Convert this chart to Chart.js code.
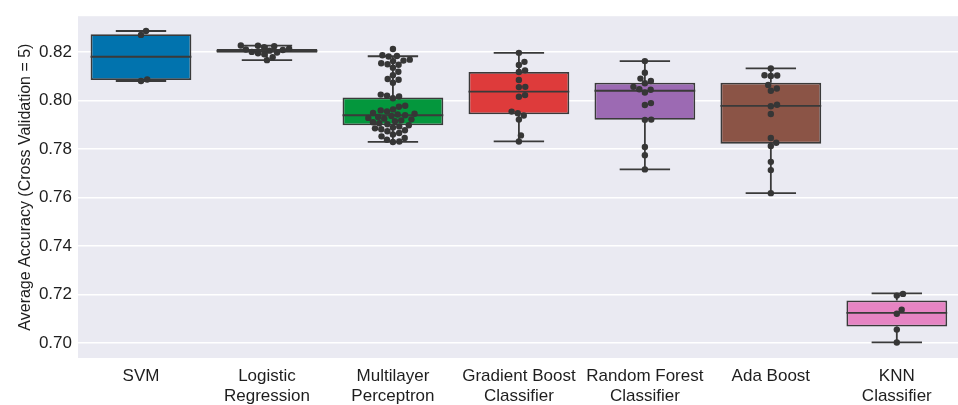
<!DOCTYPE html>
<html>
<head>
<meta charset="utf-8">
<script src="https://cdn.jsdelivr.net/npm/chart.js@4.4.1/dist/chart.umd.min.js"></script>
<style>
  html, body { margin: 0; padding: 0; background: #ffffff; overflow: hidden; }
  #wrap { width: 963px; height: 405px; position: relative; }
</style>
</head>
<body>
<div id="wrap"><canvas id="chart"></canvas></div>
<script>
// Model names (multi-line tick labels)
const categories = [
  ['SVM'],
  ['Logistic', 'Regression'],
  ['Multilayer', 'Perceptron'],
  ['Gradient Boost', 'Classifier'],
  ['Random Forest', 'Classifier'],
  ['Ada Boost'],
  ['KNN', 'Classifier']
];

// Box summary per model
const whiskerHigh = [0.8286, 0.8226, 0.8182, 0.8196, 0.8162, 0.8132, 0.7205];
const upperQuartile = [0.8273, 0.8212, 0.8012, 0.8117, 0.8073, 0.8073, 0.7176];
const medianScore = [0.8180, 0.8204, 0.7939, 0.8036, 0.8040, 0.7978, 0.7125];
const lowerQuartile = [0.8084, 0.8196, 0.7898, 0.7943, 0.7920, 0.7822, 0.7069];
const whiskerLow = [0.8080, 0.8166, 0.7829, 0.7831, 0.7716, 0.7618, 0.7003];

// Individual cross-validated accuracies per model
const svmScores = [0.8286, 0.8270, 0.8086, 0.8080];
const logRegScores = [0.8226, 0.8225, 0.8223, 0.8219, 0.8213, 0.8210, 0.8208, 0.8205, 0.8200, 0.8197,
  0.8194, 0.8190, 0.8178, 0.8166];
const mlpScores = [0.8212, 0.8186, 0.8183, 0.8181, 0.8168, 0.8164, 0.8162, 0.8153, 0.8149, 0.8147,
  0.8135, 0.8118, 0.8104, 0.8088, 0.8085, 0.8073, 0.8024, 0.8019, 0.8016, 0.8009,
  0.7978, 0.7974, 0.7963, 0.7959, 0.7955, 0.7948, 0.7945, 0.7942, 0.7939, 0.7936,
  0.7932, 0.7928, 0.7925, 0.7922, 0.7918, 0.7914, 0.7910, 0.7906, 0.7902, 0.7898,
  0.7893, 0.7889, 0.7885, 0.7881, 0.7877, 0.7873,
  0.7866, 0.7860, 0.7852, 0.7845, 0.7838, 0.7831, 0.7829];
const gbScores = [0.8196, 0.8159, 0.8146, 0.8124, 0.8117, 0.8084, 0.8056, 0.8055, 0.8022, 0.8015,
  0.7954, 0.7947, 0.7938, 0.7921, 0.7856, 0.7831];
const rfScores = [0.8162, 0.8114, 0.8090, 0.8080, 0.8071, 0.8056, 0.8044, 0.8033, 0.8046, 0.7989,
  0.7981, 0.7921, 0.7920, 0.7808, 0.7774, 0.7716];
const adaScores = [0.8132, 0.8101, 0.8103, 0.8104, 0.8064, 0.8049, 0.8040, 0.7982, 0.7976, 0.7944,
  0.7845, 0.7826, 0.7812, 0.7747, 0.7713, 0.7618];
const knnScores = [0.7203, 0.7196, 0.7138, 0.7121, 0.7056, 0.7003];
const scoresByModel = [svmScores, logRegScores, mlpScores, gbScores, rfScores, adaScores, knnScores];

// Axis ticks
const yTicks = [0.70, 0.72, 0.74, 0.76, 0.78, 0.80, 0.82];

// Styling
const boxColors = ['#0173AE', '#D9801C', '#04973D', '#DE3B3B', '#9C6AB3', '#8B5446', '#E684C3'];
const edgeColor = '#3A3A3A';
const dotColor = '#363636';
const textColor = '#1E1E1E';
const fontFamily = '"Liberation Sans", Arial, Helvetica, sans-serif';
const dotRadius = 3.2;

// Whisker, cap and median segments (null y breaks the line between segments)
const boxLines = [];
categories.forEach((_, i) => {
  const gap = { x: i, y: null };
  boxLines.push(
    { x: i, y: whiskerLow[i] }, { x: i, y: lowerQuartile[i] }, gap,
    { x: i, y: upperQuartile[i] }, { x: i, y: whiskerHigh[i] }, gap,
    { x: i - 0.2, y: whiskerLow[i] }, { x: i + 0.2, y: whiskerLow[i] }, gap,
    { x: i - 0.2, y: whiskerHigh[i] }, { x: i + 0.2, y: whiskerHigh[i] }, gap,
    { x: i - 0.4, y: medianScore[i] }, { x: i + 0.4, y: medianScore[i] }, gap
  );
});

// Plot background (seaborn darkgrid look)
const plotBackground = {
  id: 'plotBackground',
  beforeDraw(chart) {
    const { ctx, chartArea: a } = chart;
    ctx.save();
    ctx.fillStyle = '#EAEAF2';
    ctx.fillRect(a.left, a.top, a.right - a.left, a.bottom - a.top);
    ctx.restore();
  }
};

const chart = new Chart(document.getElementById('chart'), {
  type: 'bar',
  data: {
    datasets: [
      {
        type: 'scatter',
        data: [],
        pointRadius: dotRadius,
        pointHoverRadius: dotRadius,
        backgroundColor: dotColor,
        borderWidth: 0,
        order: 1
      },
      {
        type: 'line',
        data: boxLines,
        borderColor: edgeColor,
        borderWidth: 1.8,
        pointRadius: 0,
        spanGaps: false,
        fill: false,
        order: 2
      },
      {
        type: 'bar',
        data: categories.map((_, i) => ({ x: i, y: [lowerQuartile[i], upperQuartile[i]] })),
        backgroundColor: boxColors,
        borderColor: edgeColor,
        borderWidth: 1.8,
        borderSkipped: false,
        categoryPercentage: 1,
        barPercentage: 0.8,
        order: 3
      }
    ]
  },
  options: {
    responsive: true,
    maintainAspectRatio: false,
    devicePixelRatio: 1,
    animation: false,
    events: [],
    layout: { padding: { top: 13, left: 0, right: 0, bottom: 0 } },
    plugins: { legend: { display: false }, tooltip: { enabled: false } },
    scales: {
      x: {
        type: 'linear',
        offset: false,
        min: -0.5,
        max: 6.5,
        afterBuildTicks: (s) => { s.ticks = categories.map((_, i) => ({ value: i })); },
        afterFit: (s) => { s.height = 47; },
        grid: { display: false, drawTicks: false, offset: false },
        border: { display: false },
        ticks: {
          autoSkip: false,
          maxRotation: 0,
          padding: 8,
          color: textColor,
          font: { family: fontFamily, size: 17, lineHeight: 1.2 },
          callback: (v) => categories[v]
        }
      },
      y: {
        type: 'linear',
        min: 0.6939,
        max: 0.8347,
        afterBuildTicks: (s) => { s.ticks = yTicks.map(v => ({ value: v })); },
        afterFit: (s) => { s.width = 78; },
        grid: { color: '#FFFFFF', lineWidth: 1.4, drawTicks: false },
        border: { display: false },
        ticks: {
          padding: 6,
          color: textColor,
          font: { family: fontFamily, size: 17 },
          callback: (v) => Number(v).toFixed(2)
        },
        title: {
          display: true,
          text: 'Average Accuracy (Cross Validation = 5)',
          color: textColor,
          font: { family: fontFamily, size: 16 },
          padding: { top: 16, bottom: 0 }
        }
      }
    }
  },
  plugins: [plotBackground]
});

// Beeswarm layout: spread overlapping dots sideways around each category centre
function swarm(values, index) {
  const xs = chart.scales.x, ys = chart.scales.y;
  const pxPerUnit = xs.getPixelForValue(1) - xs.getPixelForValue(0);
  const d = 2 * dotRadius;
  const items = values.map(v => ({ v, py: ys.getPixelForValue(v), px: 0 }))
    .sort((a, b) => b.py - a.py);
  const placed = [];
  items.forEach(p => {
    const near = placed.filter(q => Math.abs(q.py - p.py) < d);
    const cands = [0];
    near.forEach(q => {
      const dx = Math.sqrt(d * d - (q.py - p.py) ** 2);
      cands.push(q.px + dx, q.px - dx);
    });
    cands.sort((a, b) => Math.abs(a) - Math.abs(b));
    p.px = cands.find(c => near.every(q => (q.px - c) ** 2 + (q.py - p.py) ** 2 >= d * d - 1e-6));
    placed.push(p);
  });
  return items.map(p => ({ x: index + p.px / pxPerUnit, y: p.v }));
}

chart.data.datasets[0].data = scoresByModel.flatMap((vals, i) => swarm(vals, i));
chart.update('none');
</script>
</body>
</html>
